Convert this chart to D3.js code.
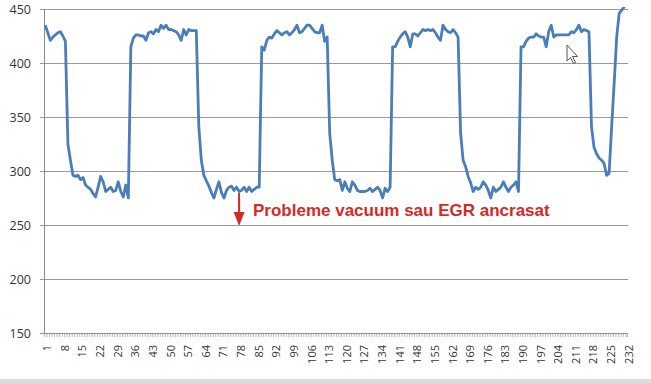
<!DOCTYPE html>
<html>
<head>
<meta charset="utf-8">
<script src="https://cdn.jsdelivr.net/npm/d3@7/dist/d3.min.js"></script>
<style>
  body { margin: 0; background: #fff; }
</style>
</head>
<body>
<script>
// samples 1..232
var categories = d3.range(1, 233);
var values = [
  435, 428, 421, 424, 426, 428, 429, 425, 420, 325,
  310, 296, 295, 296, 292, 294, 287, 285, 283, 279,
  276, 285, 295, 290, 281, 283, 285, 281, 282, 290,
  281, 276, 287, 275, 415, 423, 426, 426, 425, 425,
  421, 428, 429, 427, 431, 429, 435, 432, 435, 431,
  431, 430, 429, 426, 421, 431, 426, 431, 430, 430,
  430, 341, 310, 296, 291, 286, 280, 275, 283, 290,
  280, 275, 282, 285, 286, 282, 285, 281, 282, 285,
  281, 285, 281, 283, 285, 285, 415, 412, 421, 424,
  423, 427, 430, 428, 426, 428, 429, 426, 428, 431,
  435, 428, 429, 432, 435, 435, 432, 429, 428, 428,
  435, 420, 424, 335, 310, 292, 291, 292, 282, 290,
  284, 281, 290, 287, 282, 281, 281, 281, 282, 284,
  281, 283, 285, 282, 275, 284, 281, 285, 415, 415,
  420, 424, 427, 429, 424, 415, 427, 427, 425, 428,
  431, 430, 431, 430, 431, 428, 424, 421, 435, 431,
  429, 428, 431, 428, 424, 335, 310, 304, 295, 289,
  281, 285, 283, 285, 290, 287, 282, 275, 285, 281,
  283, 285, 290, 285, 281, 285, 287, 290, 281, 415,
  415, 420, 423, 424, 424, 427, 425, 424, 424, 415,
  429, 435, 424, 426, 426, 426, 426, 426, 426, 429,
  428, 431, 435, 429, 431, 430, 429, 341, 322, 316,
  312, 310, 307, 296, 298, 341, 381, 424, 446, 449,
  452, 455
];
var yTicks = [150, 200, 250, 300, 350, 400, 450];
var xTickLabels = categories.filter(function (d) { return (d - 1) % 7 === 0; });
var note = "Probleme vacuum sau EGR ancrasat";
var noteAt = 78; // sample the arrow points at

var svgWidth = 651;
var svgHeight = 384;
var plotLeft = 44, plotRight = 628, plotTop = 9, plotBottom = 333;
var axisFont = '"Open Sans", "DejaVu Sans", sans-serif';

var svg = d3.select('body')
    .append('svg')
    .attr('width', svgWidth)
    .attr('height', svgHeight);

var x = d3.scaleBand()
    .domain(categories)
    .range([plotLeft, plotRight]);

var y = d3.scaleLinear()
    .domain([150, 450])
    .range([plotBottom, plotTop]);

// grid
svg.append('g')
    .selectAll('line')
    .data(yTicks)
    .enter()
    .append('line')
        .attr('x1', plotLeft - 4)
        .attr('x2', plotRight)
        .attr('y1', function (d) { return Math.round(y(d)) + 0.5; })
        .attr('y2', function (d) { return Math.round(y(d)) + 0.5; })
        .attr('stroke', function (d) { return d === 150 ? '#8a8a8a' : '#9a9a9a'; })
        .attr('stroke-width', 1);

// y axis
svg.append('line')
    .attr('x1', plotLeft + 0.5).attr('x2', plotLeft + 0.5)
    .attr('y1', plotTop).attr('y2', plotBottom + 1)
    .attr('stroke', '#8a8a8a');

svg.append('g')
    .selectAll('text')
    .data(yTicks)
    .enter()
    .append('text')
        .attr('x', 31)
        .attr('y', function (d) { return y(d); })
        .attr('dy', '0.36em')
        .attr('text-anchor', 'end')
        .style('font-family', axisFont)
        .style('font-size', '12.5px')
        .attr('fill', '#333')
        .text(function (d) { return d; });

// x axis tick marks between categories
svg.append('g')
    .selectAll('line')
    .data(categories.concat([233]))
    .enter()
    .append('line')
        .attr('x1', function (d) { return d === 233 ? plotRight - 0.5 : x(d) + 0.5; })
        .attr('x2', function (d) { return d === 233 ? plotRight - 0.5 : x(d) + 0.5; })
        .attr('y1', plotBottom)
        .attr('y2', plotBottom + 4)
        .attr('stroke', '#9a9a9a')
        .attr('stroke-width', 0.7);

svg.append('g')
    .selectAll('text')
    .data(xTickLabels)
    .enter()
    .append('text')
        .attr('transform', function (d) {
            return 'translate(' + (x(d) + x.bandwidth() / 2 + 2) + ',' + 345 + ') rotate(-90)';
        })
        .attr('dy', '0.36em')
        .attr('text-anchor', 'end')
        .style('font-family', axisFont)
        .style('font-size', '11px')
        .attr('fill', '#333')
        .text(function (d) { return d; });

// series line, clipped to the plot
svg.append('clipPath')
    .attr('id', 'plotclip')
    .append('rect')
        .attr('x', plotLeft)
        .attr('y', plotTop - 2)
        .attr('width', plotRight - plotLeft)
        .attr('height', plotBottom - plotTop + 2);

var line = d3.line()
    .x(function (d, i) { return x(categories[i]) + x.bandwidth() / 2; })
    .y(function (d) { return y(d); });

svg.append('path')
    .datum(values)
    .attr('clip-path', 'url(#plotclip)')
    .attr('d', line)
    .attr('fill', 'none')
    .attr('stroke', '#4a7ebb')
    .attr('stroke-width', 2.8)
    .attr('stroke-linejoin', 'round');

// annotation
var ax = x(noteAt) + x.bandwidth() / 2;
svg.append('line')
    .attr('x1', ax).attr('x2', ax)
    .attr('y1', 193).attr('y2', 214)
    .attr('stroke', '#d42a26')
    .attr('stroke-width', 2);
svg.append('path')
    .attr('d', 'M' + (ax - 5.5) + ',212 L' + (ax + 5.5) + ',212 L' + ax + ',226 Z')
    .attr('fill', '#d42a26');
svg.append('text')
    .attr('x', 253)
    .attr('y', 216)
    .style('font-family', '"Liberation Sans", Arial, sans-serif')
    .style('font-weight', 'bold')
    .style('font-size', '17px')
    .attr('fill', '#d42a26')
    .text(note);

// mouse cursor captured in the screenshot
svg.append('path')
    .attr('d', 'M567,45 L567,61 L570.5,57.5 L573.5,63.5 L575.5,62.5 L572.5,56.5 L577.5,56.5 Z')
    .attr('fill', '#fff')
    .attr('stroke', '#555')
    .attr('stroke-width', 1);

// bottom edge of the screenshot
svg.append('rect')
    .attr('x', 0).attr('y', 379)
    .attr('width', svgWidth).attr('height', 5)
    .attr('fill', '#dcdcdc');
</script>
</body>
</html>
